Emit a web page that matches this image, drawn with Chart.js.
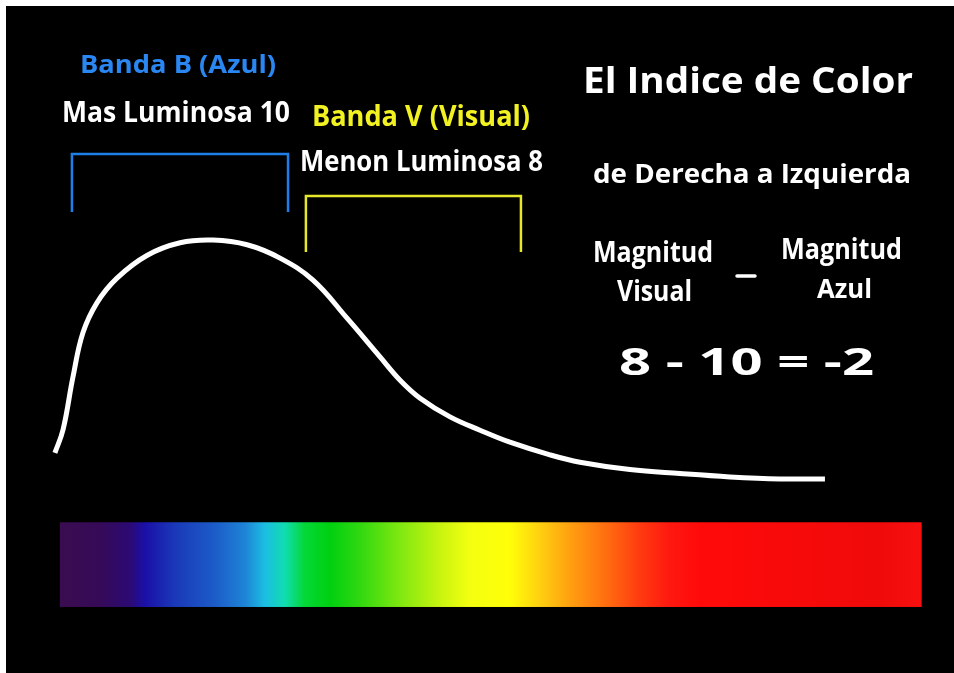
<!DOCTYPE html>
<html>
<head>
<meta charset="utf-8">
<script src="https://cdn.jsdelivr.net/npm/chart.js@4.4.1/dist/chart.umd.min.js"></script>
<style>
    html, body { margin: 0; padding: 0; background: #ffffff; overflow: hidden; }
    #wrap { position: absolute; left: 6px; top: 6px; width: 948px; height: 667px; background: #000000; }
    canvas { display: block; }
</style>
</head>
<body>
<div id="wrap"><canvas id="colorIndexChart" width="948" height="667"></canvas></div>
<script>
// wavelength (nm) along the spectrum, and relative brightness of the star
const wavelengths = [377.7, 381.5, 386.1, 390.7, 397.2, 406.5, 420.4, 435.8, 451.1, 466.9, 482.2, 497.5, 513.3,
    528.6, 537.9, 547.2, 561.1, 575.0, 588.9, 607.5, 621.4, 644.6, 667.8, 691.0, 714.2, 735.1];
const brightness = [33.0, 36.5, 44.4, 51.0, 55.5, 59.2, 62.6, 64.5, 64.9, 64.2, 62.2, 58.9, 53.2,
    47.4, 43.9, 41.2, 38.4, 36.4, 34.6, 32.7, 31.6, 30.5, 29.9, 29.4, 29.1, 29.1];

// filter bands: [from nm, to nm], bracket top and foot
const bandB = [385.6, 485.9];
const bandBLevels = [77.8, 69.1];
const bandV = [494.2, 594.0];
const bandVLevels = [71.5, 63.1];

// spectrum strip
const spectrumRange = [380, 780];
const spectrumLevels = [9.9, 22.6];
const spectrumStops = [
    [0.000, "#3a0c50"], [0.046, "#360a58"], [0.081, "#2c0a74"], [0.099, "#1a10a8"],
    [0.133, "#1a38b8"], [0.180, "#1c5cc8"], [0.215, "#1e84d6"], [0.238, "#1cbee2"],
    [0.261, "#10dcb0"], [0.284, "#04d838"], [0.313, "#00d010"], [0.348, "#30d810"],
    [0.395, "#80e810"], [0.441, "#c8f410"], [0.476, "#f4ff10"], [0.522, "#ffff08"],
    [0.557, "#ffd010"], [0.592, "#ffa010"], [0.632, "#ff7010"], [0.673, "#ff3a10"],
    [0.708, "#ff1810"], [0.743, "#ff0a0a"], [0.952, "#f00a0a"], [1.000, "#f81010"]
];

// text: label, left, baseline, width, cap height, colour (canvas pixels)
const labels = [
    ["Banda B (Azul)", 74, 67, 196, 18, "#2a86f0"],
    ["Mas Luminosa 10", 56, 116, 228, 20, "#ffffff"],
    ["Banda V (Visual)", 306, 120, 218, 20, "#f2f222"],
    ["Menon Luminosa 8", 294, 165, 243, 21, "#ffffff"],
    ["El Indice de Color", 577, 87, 330, 25, "#ffffff"],
    ["de Derecha a Izquierda", 587, 177, 318, 19, "#ffffff"],
    ["Magnitud", 587, 256, 120, 20, "#ffffff"],
    ["Visual", 611, 295, 75, 20, "#ffffff"],
    ["Magnitud", 775, 253, 121, 20, "#ffffff"],
    ["Azul", 811, 292, 55, 19, "#ffffff"],
    ["8 - 10 = -2", 613, 369, 255, 27, "#ffffff"]
];

function bracket(range, levels) {
    return [
        { x: range[0], y: levels[1] },
        { x: range[0], y: levels[0] },
        { x: range[1], y: levels[0] },
        { x: range[1], y: levels[1] }
    ];
}

const spectrumPlugin = {
    id: "spectrum",
    beforeDatasetsDraw(chart) {
        const ctx = chart.ctx;
        const xs = chart.scales.x, ys = chart.scales.y;
        const x1 = xs.getPixelForValue(spectrumRange[0]);
        const x2 = xs.getPixelForValue(spectrumRange[1]);
        const yTop = ys.getPixelForValue(spectrumLevels[1]);
        const yBot = ys.getPixelForValue(spectrumLevels[0]);
        const grad = ctx.createLinearGradient(x1, 0, x2, 0);
        spectrumStops.forEach(s => grad.addColorStop(s[0], s[1]));
        ctx.save();
        ctx.fillStyle = grad;
        ctx.fillRect(x1, yTop, x2 - x1, yBot - yTop);
        ctx.restore();
    }
};

const textPlugin = {
    id: "texts",
    afterDraw(chart) {
        const ctx = chart.ctx;
        ctx.save();
        ctx.textBaseline = "alphabetic";
        labels.forEach(t => {
            const size = t[4] / 0.714;
            ctx.font = "bold " + size.toFixed(1) + "px 'Open Sans'";
            const w = ctx.measureText(t[0]).width;
            ctx.save();
            ctx.translate(t[1], t[2]);
            ctx.scale(t[3] / w, 1);
            ctx.fillStyle = t[5];
            ctx.fillText(t[0], 0, 0);
            ctx.restore();
        });
        // minus sign between the two magnitudes
        ctx.strokeStyle = "#ffffff";
        ctx.lineWidth = 3.5;
        ctx.lineCap = "round";
        ctx.beginPath();
        ctx.moveTo(731, 270);
        ctx.lineTo(749, 270);
        ctx.stroke();
        ctx.restore();
    }
};

const ctx = document.getElementById("colorIndexChart").getContext("2d");
const chart = new Chart(ctx, {
    type: "line",
    data: {
        datasets: [
            {
                label: "Brillo",
                data: wavelengths.map((w, i) => ({ x: w, y: brightness[i] })),
                borderColor: "#ffffff",
                borderWidth: 5,
                pointRadius: 0,
                tension: 0.4,
                fill: false
            },
            {
                label: "Banda B",
                data: bracket(bandB, bandBLevels),
                borderColor: "#1e7fe6",
                borderWidth: 2.5,
                pointRadius: 0,
                tension: 0
            },
            {
                label: "Banda V",
                data: bracket(bandV, bandVLevels),
                borderColor: "#e6e62a",
                borderWidth: 2.5,
                pointRadius: 0,
                tension: 0
            }
        ]
    },
    options: {
        responsive: false,
        animation: false,
        layout: { padding: 0 },
        plugins: {
            legend: { display: false },
            tooltip: { enabled: false }
        },
        scales: {
            x: { type: "linear", min: 355, max: 795, display: false },
            y: { min: 0, max: 100, display: false }
        }
    },
    plugins: [spectrumPlugin, textPlugin]
});
</script>
</body>
</html>
